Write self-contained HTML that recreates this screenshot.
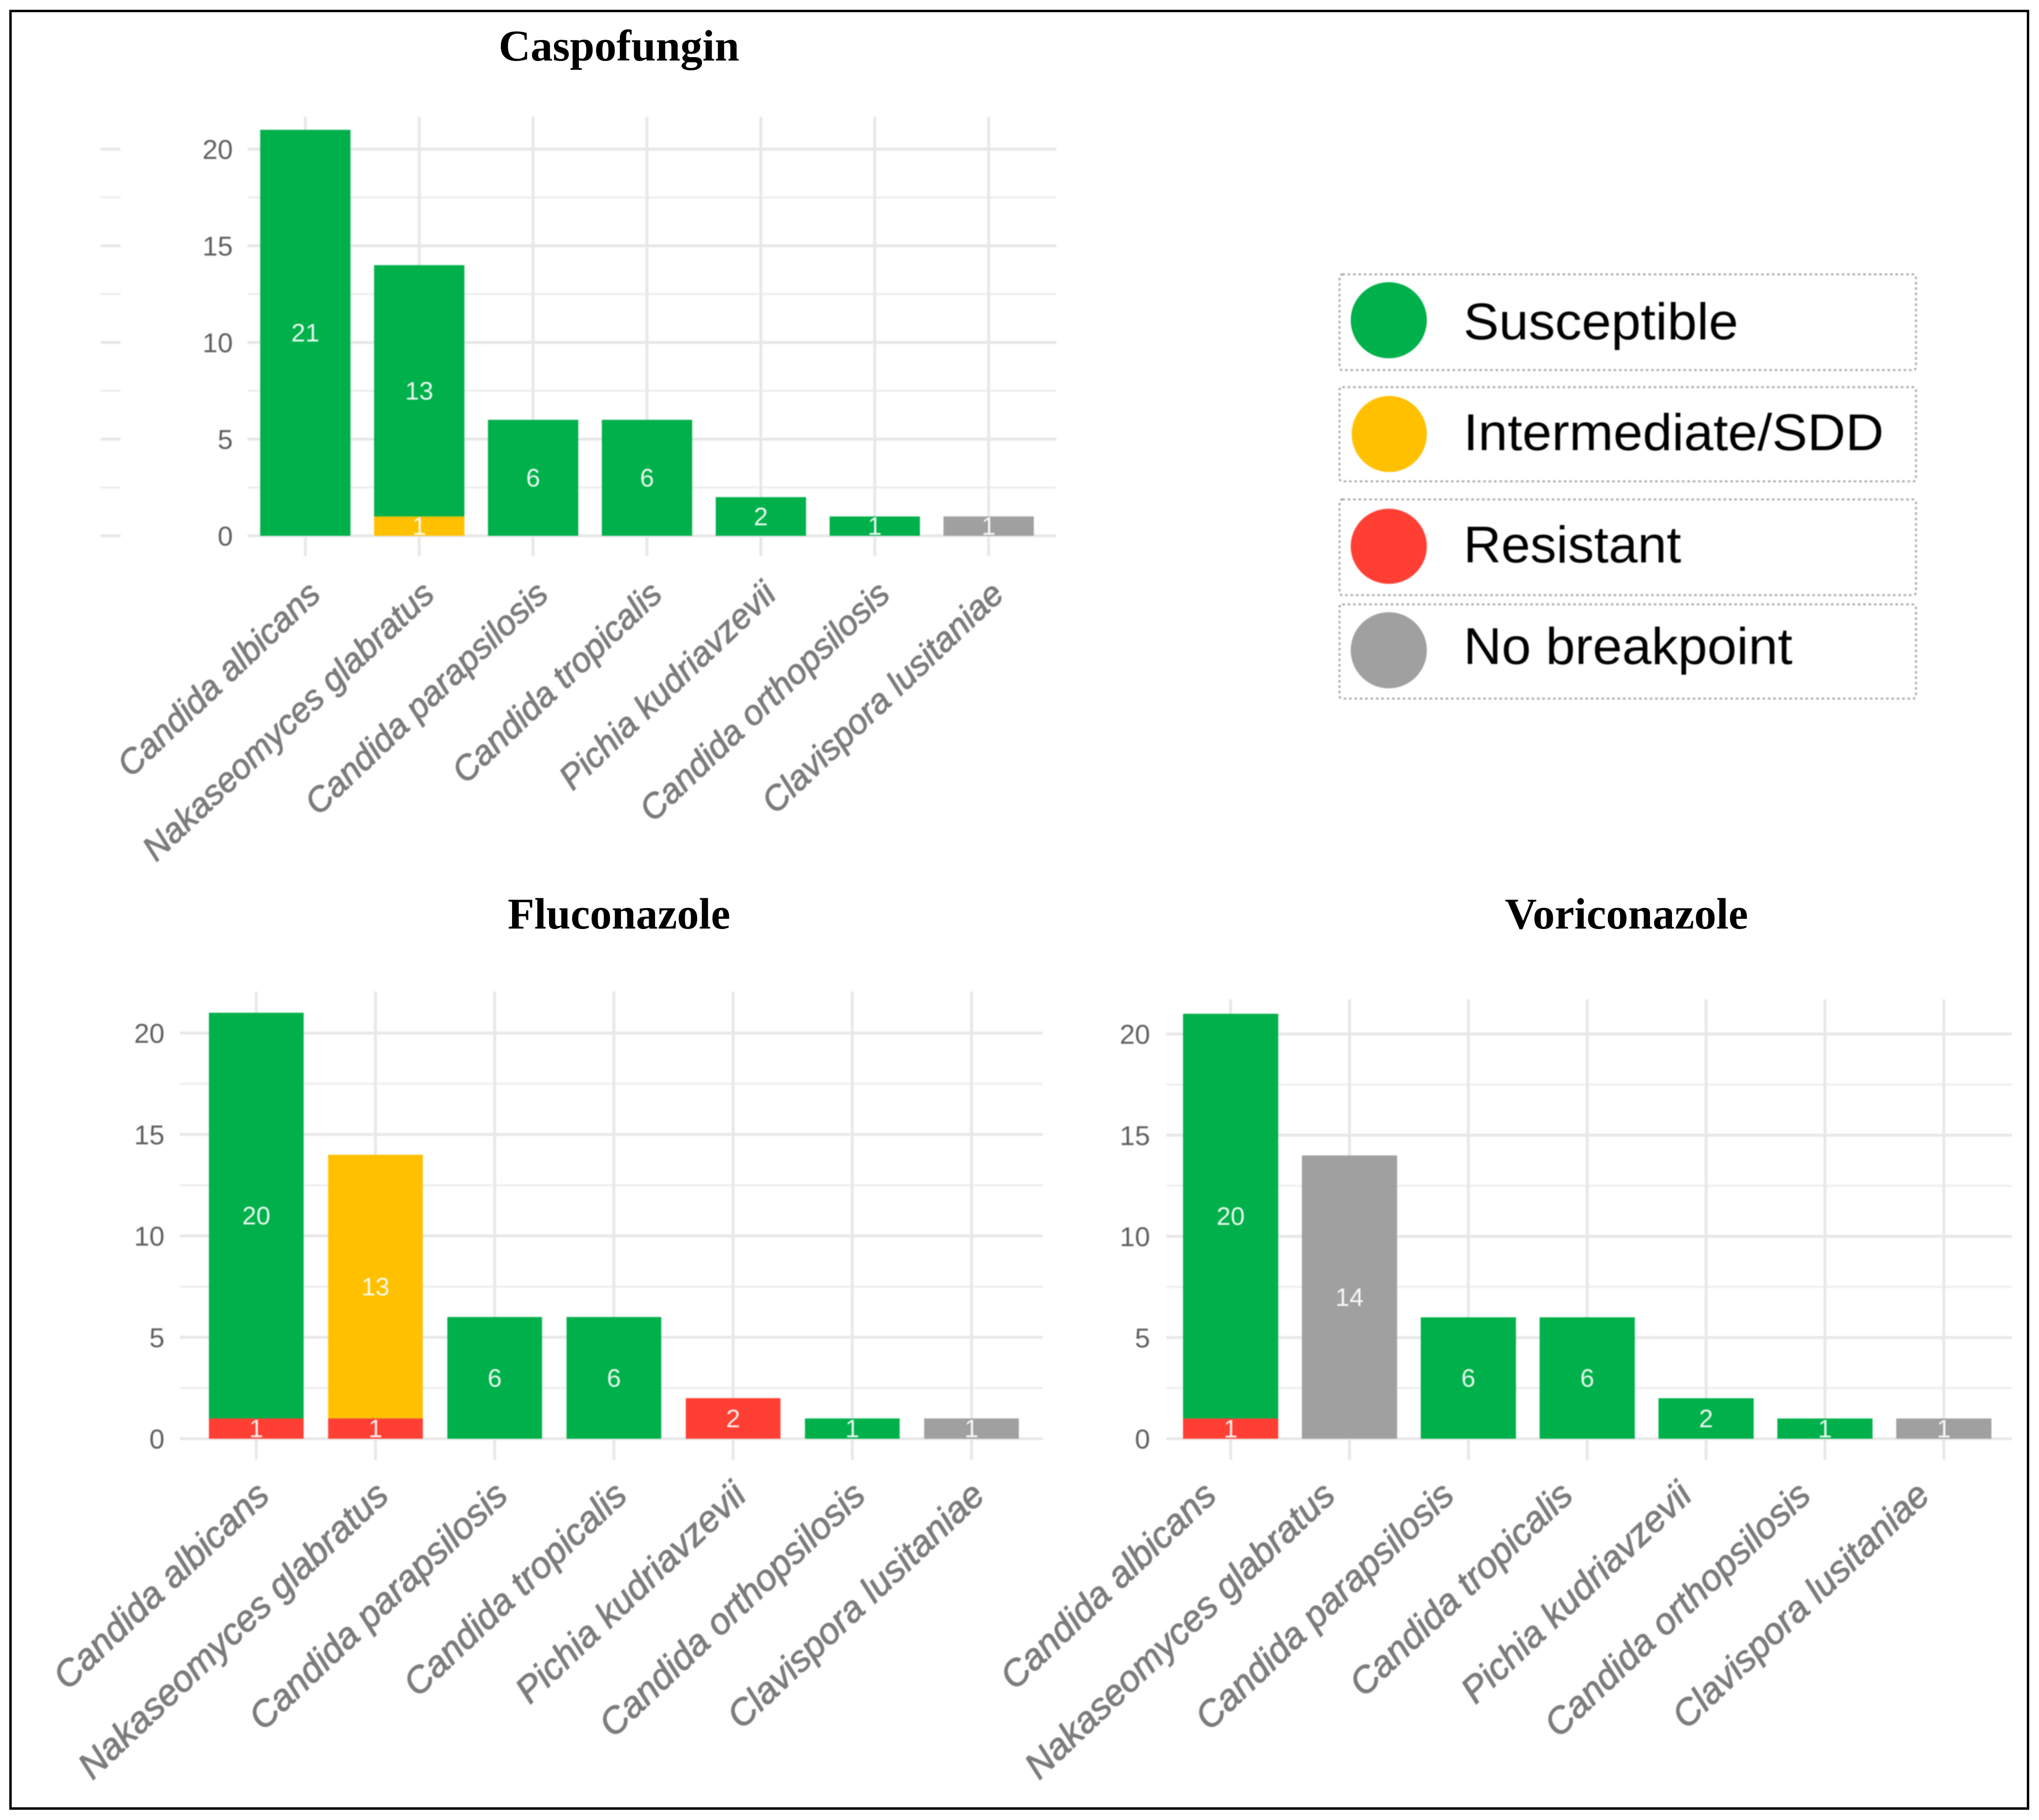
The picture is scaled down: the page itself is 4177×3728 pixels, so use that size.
<!DOCTYPE html>
<html lang="en">
<head>
<meta charset="utf-8">
<title>Antifungal susceptibility by species</title>
<style>
html,body{margin:0;padding:0;background:#fff;}
svg{display:block;}
.soft{filter:blur(1px);}
</style>
</head>
<body>
<svg id="figure" xmlns="http://www.w3.org/2000/svg" width="4177" height="3728" viewBox="0 0 4177 3728">
  <rect x="0" y="0" width="4177" height="3728" fill="#ffffff"/>
  <rect x="21.5" y="22.5" width="4133" height="3682" fill="none" stroke="#000000" stroke-width="5"/>

  <g class="soft">
    <g>
      <rect x="2744" y="562" width="1181" height="196" rx="6" fill="none" stroke="#a8a8a8" stroke-width="4" stroke-dasharray="5 6"/>
      <ellipse cx="2845" cy="656" rx="78" ry="78" fill="#00B04A"/>
      <text x="2998" y="695" font-family="'Liberation Sans', sans-serif" font-size="106" textLength="563" lengthAdjust="spacingAndGlyphs" fill="#000000">Susceptible</text>
    </g>
    <g>
      <rect x="2744" y="793" width="1181" height="193" rx="6" fill="none" stroke="#a8a8a8" stroke-width="4" stroke-dasharray="5 6"/>
      <ellipse cx="2846" cy="889" rx="77" ry="78" fill="#FFC000"/>
      <text x="2998" y="922" font-family="'Liberation Sans', sans-serif" font-size="106" textLength="861" lengthAdjust="spacingAndGlyphs" fill="#000000">Intermediate/SDD</text>
    </g>
    <g>
      <rect x="2744" y="1023" width="1181" height="196" rx="6" fill="none" stroke="#a8a8a8" stroke-width="4" stroke-dasharray="5 6"/>
      <ellipse cx="2845" cy="1119" rx="78" ry="77" fill="#FF3F33"/>
      <text x="2998" y="1152" font-family="'Liberation Sans', sans-serif" font-size="106" textLength="446" lengthAdjust="spacingAndGlyphs" fill="#000000">Resistant</text>
    </g>
    <g>
      <rect x="2744" y="1238" width="1181" height="193" rx="6" fill="none" stroke="#a8a8a8" stroke-width="4" stroke-dasharray="5 6"/>
      <ellipse cx="2845" cy="1332" rx="78" ry="78" fill="#A0A0A0"/>
      <text x="2998" y="1360" font-family="'Liberation Sans', sans-serif" font-size="106" textLength="674" lengthAdjust="spacingAndGlyphs" fill="#000000">No breakpoint</text>
    </g>
  </g>
</svg>

<script>
const categories = ["Candida albicans","Nakaseomyces glabratus","Candida parapsilosis","Candida tropicalis","Pichia kudriavzevii","Candida orthopsilosis","Clavispora lusitaniae"];
const majorTicks = [0,5,10,15,20];
const minorTicks = [2.5,7.5,12.5,17.5];

const caspofunginResistant    = [0,0,0,0,0,0,0];
const caspofunginIntermediate = [0,1,0,0,0,0,0];
const caspofunginSusceptible  = [21,13,6,6,2,1,0];
const caspofunginNoBreakpoint = [0,0,0,0,0,0,1];

const fluconazoleResistant    = [1,1,0,0,2,0,0];
const fluconazoleIntermediate = [0,13,0,0,0,0,0];
const fluconazoleSusceptible  = [20,0,6,6,0,1,0];
const fluconazoleNoBreakpoint = [0,0,0,0,0,0,1];

const voriconazoleResistant    = [1,0,0,0,0,0,0];
const voriconazoleIntermediate = [0,0,0,0,0,0,0];
const voriconazoleSusceptible  = [20,0,6,6,2,1,0];
const voriconazoleNoBreakpoint = [0,14,0,0,0,0,1];

const SVG_NS = "http://www.w3.org/2000/svg";
const seriesColors = {resistant:"#FF3F33",intermediate:"#FFC000",susceptible:"#00B04A",noBreakpoint:"#A0A0A0"};
const seriesOrder = ["resistant","intermediate","susceptible","noBreakpoint"];
const figure = document.getElementById("figure");

function make(tag, attrs, parent){
  const el = document.createElementNS(SVG_NS, tag);
  for (const k in attrs) el.setAttribute(k, attrs[k]);
  parent.appendChild(el);
  return el;
}

function drawPanel(p){
  const xScale = i => p.x0 + i * p.step;
  const yScale = v => p.y0 - v * p.unit;

  const title = make("text", {x:p.titleX, y:p.titleY, "text-anchor":"middle", "font-family":"'Liberation Serif', serif", "font-weight":"bold", "font-size":90, textLength:p.titleW, lengthAdjust:"spacingAndGlyphs", fill:"#000"}, figure);
  
  
  title.textContent = p.title;

  const g = make("g", {class:"soft"}, figure);
  
  

  minorTicks.forEach(t => {
    const line = make("line", {x1:p.gridL, x2:p.gridR, y1:yScale(t), y2:yScale(t), stroke:"#eeeeee", "stroke-width":4}, g);
    
    
    if (p.stubs) {
      const stub = make("line", {x1:p.stubs[0], x2:p.stubs[1], y1:yScale(t), y2:yScale(t), stroke:"#eeeeee", "stroke-width":4}, g);
      
      
    }
  });
  majorTicks.forEach(t => {
    const line = make("line", {x1:p.gridL, x2:p.gridR, y1:yScale(t), y2:yScale(t), stroke:"#e8e8e8", "stroke-width":6}, g);
    
    
    if (p.stubs) {
      const stub = make("line", {x1:p.stubs[0], x2:p.stubs[1], y1:yScale(t), y2:yScale(t), stroke:"#e8e8e8", "stroke-width":6}, g);
      
      
    }
    const label = make("text", {x:p.tickR, y:yScale(t) + 20, "text-anchor":"end", "font-family":"'Liberation Sans', sans-serif", "font-size":56, fill:"#5f5f5f"}, g);
    
    
    label.textContent = String(t);
  });
  categories.forEach((c, i) => {
    const line = make("line", {x1:xScale(i), x2:xScale(i), y1:p.gridT, y2:p.gridB, stroke:"#e8e8e8", "stroke-width":6}, g);
    
    
  });

  categories.forEach((c, i) => {
    let base = 0;
    seriesOrder.forEach(s => {
      const v = p.series[s][i];
      if (!v) return;
      const rect = make("rect", {x:xScale(i) - p.barW / 2, y:yScale(base + v), width:p.barW, height:yScale(base) - yScale(base + v), fill:seriesColors[s]}, g);
      
      
      base += v;
    });
  });

  categories.forEach((c, i) => {
    let base = 0;
    seriesOrder.forEach(s => {
      const v = p.series[s][i];
      if (!v) return;
      const value = make("text", {x:xScale(i), y:yScale(base + v / 2) + 18, "text-anchor":"middle", "font-family":"'Liberation Sans', sans-serif", "font-size":52, fill:"#ffffff", "fill-opacity":0.92}, g);
      
      
      value.textContent = String(v);
      base += v;
    });
  });

  categories.forEach((c, i) => {
    const ax = xScale(i) + p.labelDx, ay = p.labelY;
    const label = make("text", {x:ax, y:ay, transform:"rotate(" + p.labelAngle + " " + ax + " " + ay + ")", "text-anchor":"end", "font-family":"'Liberation Sans', sans-serif", "font-style":"italic", "font-size":p.labelSize, fill:"#7c7c7c", stroke:"#7c7c7c", "stroke-width":1.5}, g);
    
    
    label.textContent = c;
  });
}

drawPanel({key:"caspofungin", title:"Caspofungin", titleX:1268, titleY:124, titleW:493,
  x0:625.5, step:233.3, barW:185, y0:1097.5, unit:39.6,
  gridL:507, gridR:2164, gridT:239, gridB:1139, stubs:[206,247], tickR:477,
  labelDx:35, labelY:1222, labelAngle:-43.5, labelSize:70.5,
  series:{resistant:caspofunginResistant, intermediate:caspofunginIntermediate, susceptible:caspofunginSusceptible, noBreakpoint:caspofunginNoBreakpoint}});

drawPanel({key:"fluconazole", title:"Fluconazole", titleX:1268, titleY:1902, titleW:456,
  x0:525, step:244.2, barW:194, y0:2947, unit:41.55,
  gridL:368, gridR:2136, gridT:2031, gridB:2990, stubs:null, tickR:337,
  labelDx:31, labelY:3068, labelAngle:-43.5, labelSize:75,
  series:{resistant:fluconazoleResistant, intermediate:fluconazoleIntermediate, susceptible:fluconazoleSusceptible, noBreakpoint:fluconazoleNoBreakpoint}});

drawPanel({key:"voriconazole", title:"Voriconazole", titleX:3332, titleY:1902, titleW:498,
  x0:2521, step:243.5, barW:195, y0:2947, unit:41.45,
  gridL:2389, gridR:4121, gridT:2047, gridB:2990, stubs:null, tickR:2356,
  labelDx:-25, labelY:3068, labelAngle:-43.5, labelSize:75,
  series:{resistant:voriconazoleResistant, intermediate:voriconazoleIntermediate, susceptible:voriconazoleSusceptible, noBreakpoint:voriconazoleNoBreakpoint}});
</script>
</body>
</html>
